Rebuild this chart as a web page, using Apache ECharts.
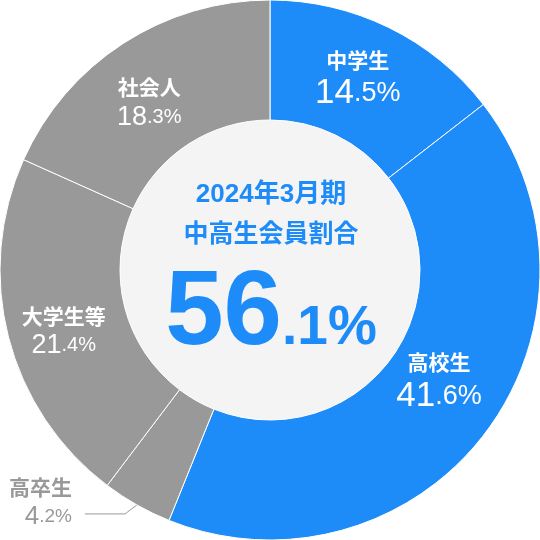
<!DOCTYPE html>
<html><head><meta charset="utf-8">
<script src="https://cdn.jsdelivr.net/npm/echarts@6/dist/echarts.min.js"></script>
<style>html,body{margin:0;padding:0;background:#fff}#c{width:540px;height:540px}</style>
</head><body><div id="c"></div>
<script>
const categories = ['中学生', '高校生', '高卒生', '大学生等', '社会人'];
const values = [14.5, 41.6, 4.2, 21.4, 18.3];
const highlighted = ['中学生', '高校生'];
const centerTitle = ['2024年3月期', '中高生会員割合'];

const BLUE = '#1e8cf8', GRAY = '#999999', FONT = '"Liberation Sans", "Noto Sans CJK JP", sans-serif';
const CJK = '"Noto Sans CJK JP", sans-serif';
const labelOffsets = { '中学生': [-6, -2], '高校生': [-1, -19], '大学生等': [0, 8], '社会人': [-5, 11] };

function splitVal(v) { const s = v.toFixed(1).split('.'); return [s[0], '.' + s[1] + '%']; }

const data = categories.map((name, i) => {
  const isHi = highlighted.includes(name);
  const outside = name === '高卒生';
  const item = {
    name, value: values[i],
    itemStyle: { color: isHi ? BLUE : GRAY },
    label: outside ? {
      position: 'outside', align: 'right',
      rich: {
        n: { fontSize: 21, fontWeight: 'bold', color: GRAY, fontFamily: CJK, lineHeight: 30, align: 'right' },
        b: { fontSize: 26, color: GRAY, fontFamily: FONT, lineHeight: 30 },
        s: { fontSize: 19, color: GRAY, fontFamily: FONT, lineHeight: 30 }
      }
    } : {
      position: 'inside', offset: labelOffsets[name],
      rich: isHi ? {
        n: { fontSize: 21, fontWeight: 'bold', color: '#fff', fontFamily: CJK, lineHeight: 34 },
        b: { fontSize: 35, color: '#fff', fontFamily: FONT, lineHeight: 34 },
        s: { fontSize: 27, color: '#fff', fontFamily: FONT, lineHeight: 34 }
      } : {
        n: { fontSize: 21, fontWeight: 'bold', color: '#fff', fontFamily: CJK, lineHeight: 30 },
        b: { fontSize: 27, color: '#fff', fontFamily: FONT, lineHeight: 30 },
        s: { fontSize: 20, color: '#fff', fontFamily: FONT, lineHeight: 30 }
      }
    },
    labelLine: { show: outside, lineStyle: { color: GRAY, width: 1 } }
  };
  return item;
});

const hiTotal = values.filter((v, i) => highlighted.includes(categories[i])).reduce((a, b) => a + b, 0);
const [hiInt, hiDec] = splitVal(hiTotal);

const chart = echarts.init(document.getElementById('c'));
chart.setOption({
  animation: false,
  series: [
    {
      type: 'pie', center: ['50%', '50%'], radius: [150, 270], startAngle: 90, clockwise: true,
      avoidLabelOverlap: false, silent: true,
      itemStyle: { borderColor: '#fff', borderWidth: 1 },
      label: {
        show: true,
        formatter: p => { const [a, b] = splitVal(p.value); return '{n|' + p.name + '}\n{b|' + a + '}{s|' + b + '}'; }
      },
      labelLayout: function (params) {
        if (params.dataIndex !== 2) return {};
        const p0 = params.labelLinePoints[0];
        const p1 = [p0[0] - 12, p0[1] + 9];
        const p2 = [p1[0] - 40, p1[1]];
        return { x: p2[0] - 13, y: p2[1] - 12, align: 'right', verticalAlign: 'middle', labelLinePoints: [p0, p1, p2] };
      },
      data
    },
    {
      type: 'pie', center: ['50%', '50%'], radius: [0, 150], silent: true, z: 1,
      label: { show: false }, labelLine: { show: false },
      itemStyle: { color: '#f4f4f4' },
      data: [{ value: 1, name: 'center' }]
    }
  ],
  graphic: [
    { type: 'text', x: 271, y: 195, z: 100, style: { text: centerTitle[0], fill: BLUE, font: 'bold 26px ' + FONT, align: 'center', verticalAlign: 'middle' } },
    { type: 'text', x: 271, y: 232, z: 100, style: { text: centerTitle[1], fill: BLUE, font: 'bold 25px ' + CJK, align: 'center', verticalAlign: 'middle' } },
    { type: 'text', x: 271, y: 368, z: 100, style: {
        text: '{a|' + hiInt + '}{d|' + hiDec + '}', align: 'center', verticalAlign: 'bottom',
        rich: {
          a: { fontSize: 105, fontWeight: 'bold', fill: BLUE, fontFamily: FONT, verticalAlign: 'bottom' },
          d: { fontSize: 55, fontWeight: 'bold', fill: BLUE, fontFamily: FONT, verticalAlign: 'bottom', padding: [0, 0, 12, 0] }
        } } }
  ]
});
</script></body></html>
